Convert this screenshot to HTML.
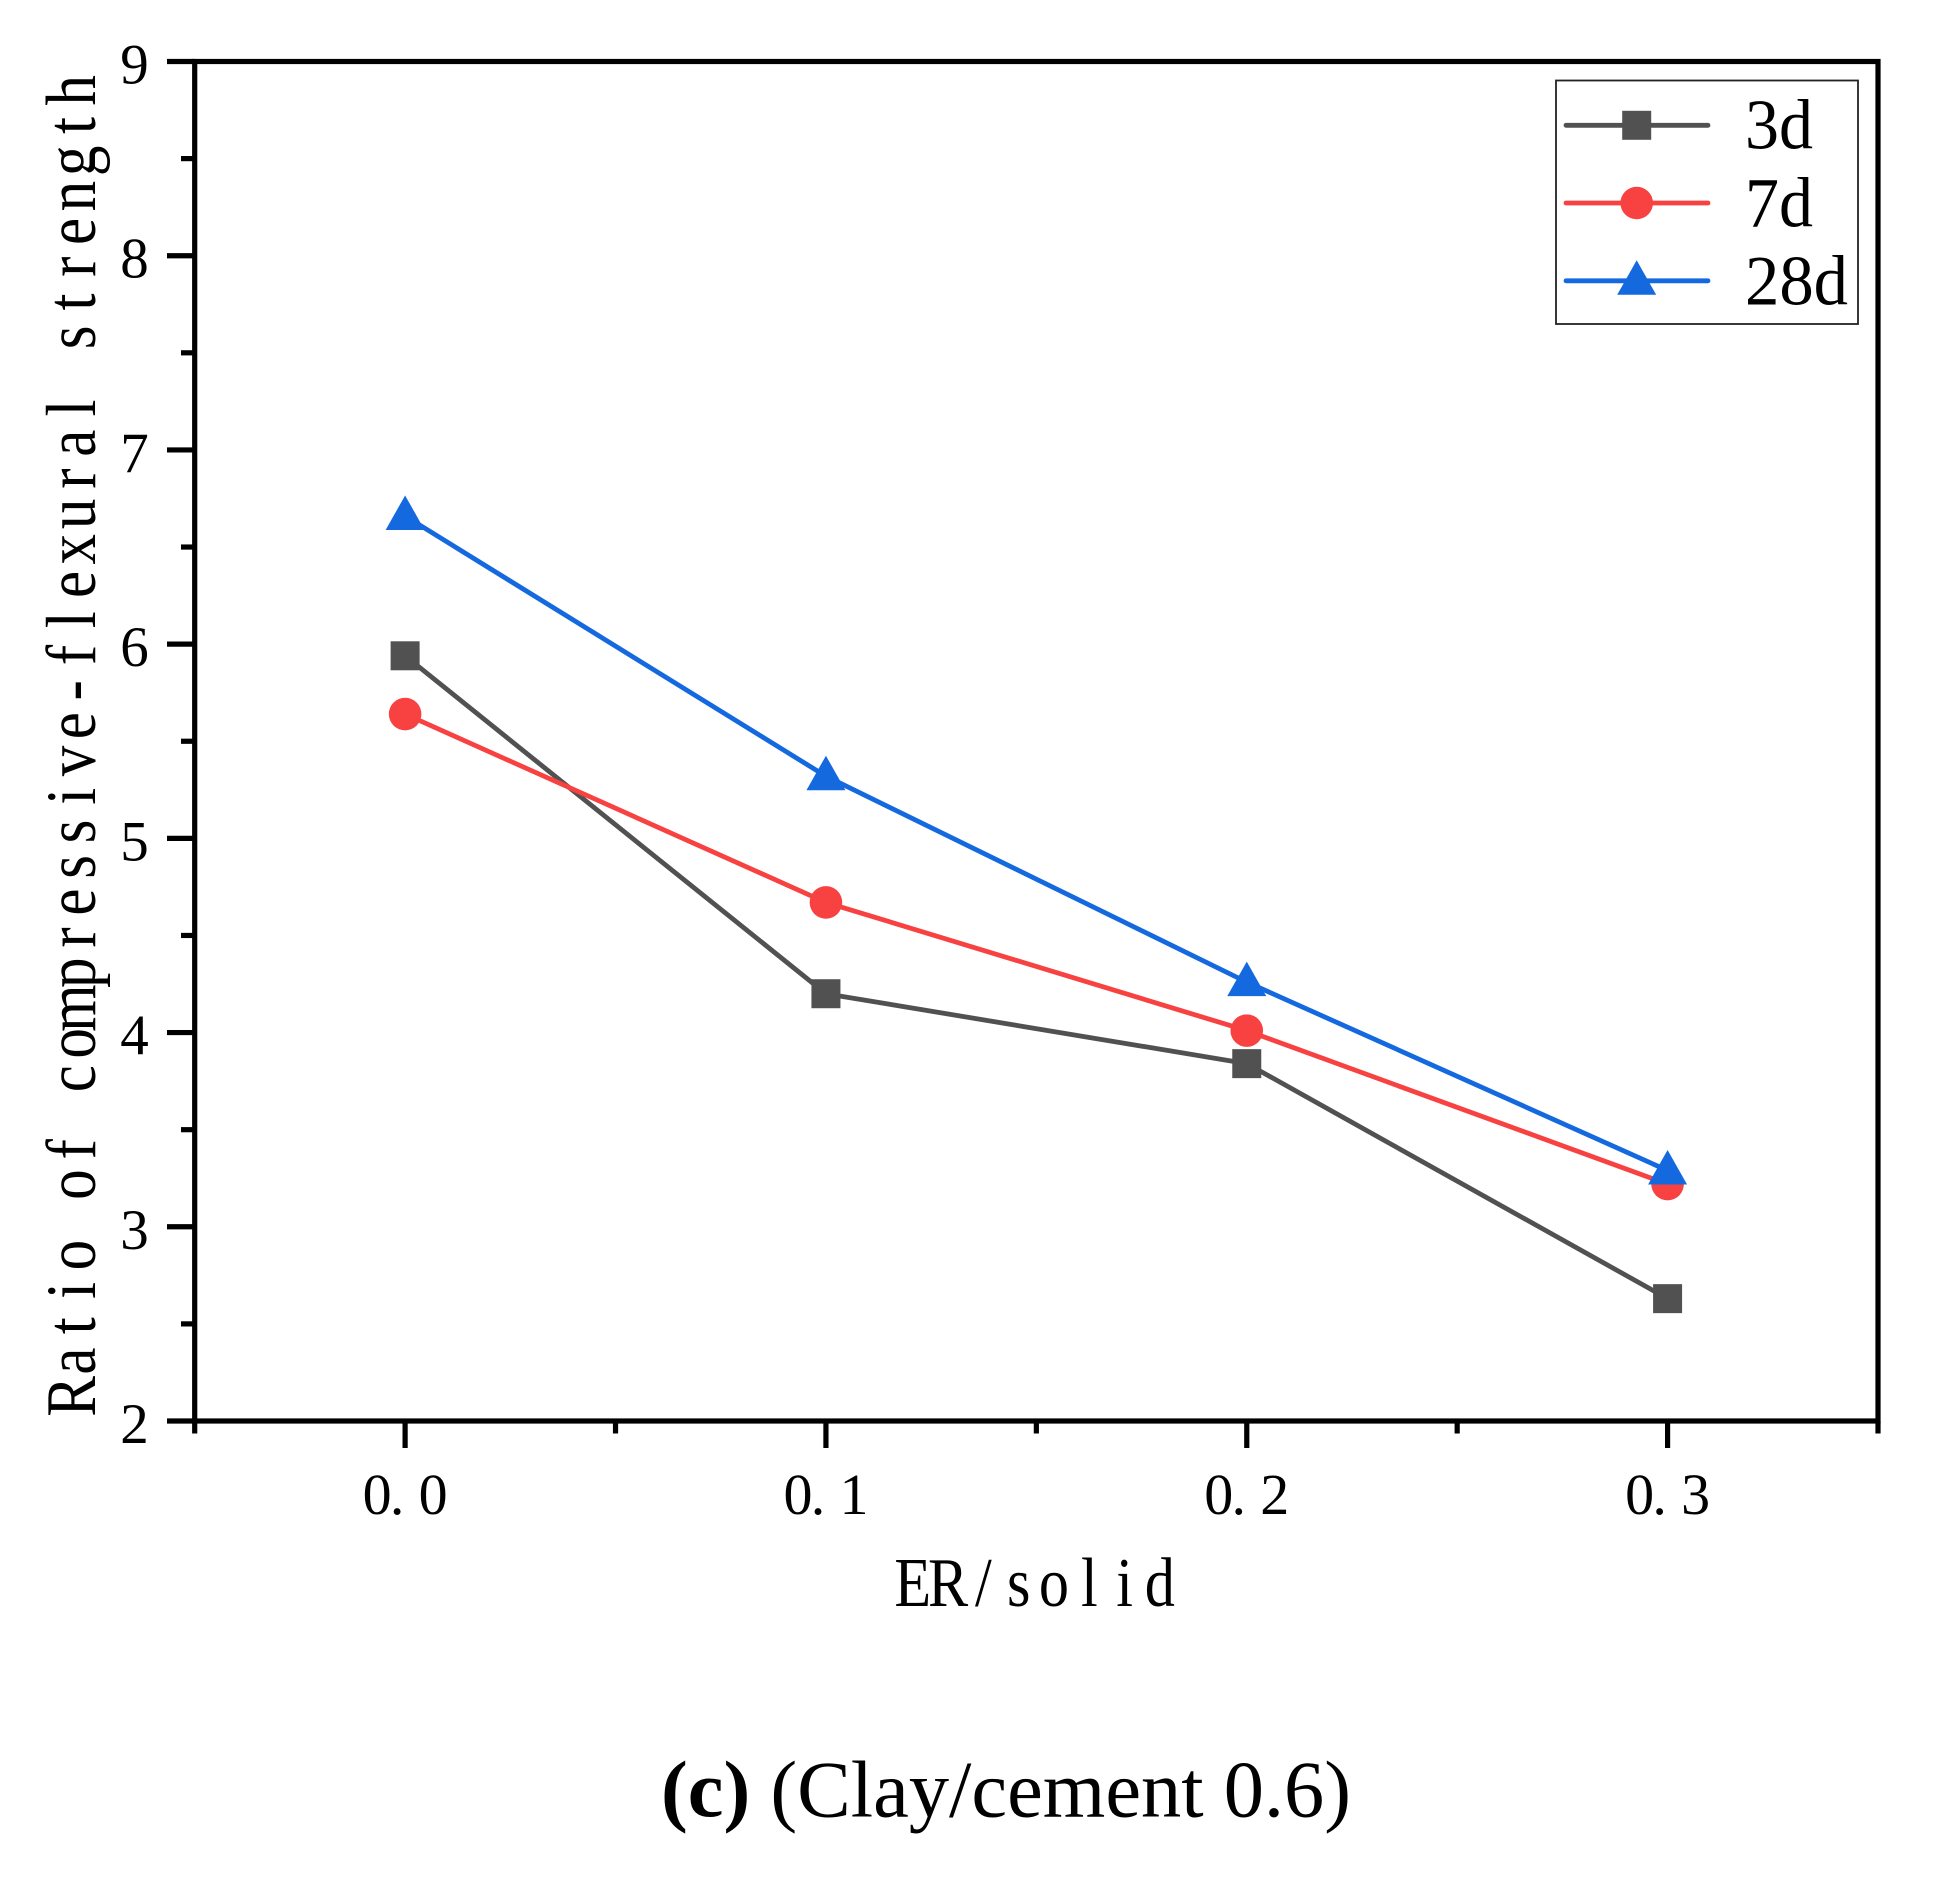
<!DOCTYPE html>
<html lang="en">
<head>
<meta charset="utf-8">
<title>Ratio of compressive-flexural strength vs ER/solid</title>
<style>
html,body{margin:0;padding:0;background:#fff;}
body{width:1936px;height:1880px;overflow:hidden;}
svg{display:block;}
text{font-family:"Liberation Serif","Noto Serif CJK SC",serif;fill:#000;}
</style>
</head>
<body>
<svg id="chart" xmlns="http://www.w3.org/2000/svg" width="1936" height="1880" viewBox="0 0 1936 1880">
  <rect x="0" y="0" width="1936" height="1880" fill="#ffffff"/>
  <g id="series-layer"></g>
  <g id="axes-layer"></g>
  <g id="legend">
    <rect x="1556" y="80.5" width="302" height="243.5" fill="#ffffff" stroke="#222222" stroke-width="1.8"/>
    <g id="legend-keys"></g>
    <text x="1745" y="148.5" font-size="71" textLength="68" lengthAdjust="spacingAndGlyphs">3d</text>
    <text x="1745" y="226.5" font-size="71" textLength="68" lengthAdjust="spacingAndGlyphs">7d</text>
    <text x="1745" y="304.5" font-size="71" textLength="103" lengthAdjust="spacingAndGlyphs">28d</text>
  </g>
  <text x="661" y="1816.5" font-size="80" textLength="690" lengthAdjust="spacingAndGlyphs"><tspan font-weight="bold">(c)</tspan> (Clay/cement 0.6)</text>
</svg>
<script>
const xValues = [0.0, 0.1, 0.2, 0.3];
const xTickLabels = ["0.0", "0.1", "0.2", "0.3"];
const yTickLabels = ["2", "3", "4", "5", "6", "7", "8", "9"];
const series3d = [5.94, 4.20, 3.84, 2.63];
const series7d = [5.64, 4.67, 4.01, 3.22];
const series28d = [6.66, 5.32, 4.26, 3.29];
const xMin = -0.05, xMax = 0.35, yMin = 2, yMax = 9;
const yAxisTitle = "Ratio of compressive-flexural strength";
const xAxisTitle = "ER/solid";

const NS = "http://www.w3.org/2000/svg";
const plotL = 194.7, plotR = 1878, plotT = 61.5, plotB = 1421;
const axisStroke = 5.2, seriesStroke = 4.8;
function xPos(v){ return plotL + (v - xMin) / (xMax - xMin) * (plotR - plotL); }
function yPos(v){ return plotB - (v - yMin) / (yMax - yMin) * (plotB - plotT); }
function mk(tag, attrs, parent){
  const el = document.createElementNS(NS, tag);
  for (const k in attrs) el.setAttribute(k, attrs[k]);
  parent.appendChild(el);
  return el;
}
function drawSquare(parent, cx, cy, color){
  return mk("rect", {x: cx - 14.5, y: cy - 14.5, width: 29, height: 29, fill: color}, parent);
}
function drawCircle(parent, cx, cy, color){
  return mk("circle", {cx: cx, cy: cy, r: 16.3, fill: color}, parent);
}
function drawTriangle(parent, cx, cy, color){
  return mk("polygon", {points: cx + "," + (cy - 20.5) + " " + (cx + 19.5) + "," + (cy + 14) + " " + (cx - 19.5) + "," + (cy + 14), fill: color}, parent);
}

const axes = document.getElementById("axes-layer");
const seriesLayer = document.getElementById("series-layer");
const legendKeys = document.getElementById("legend-keys");

/* frame */
const frame = mk("rect", {x: plotL, y: plotT, width: plotR - plotL, height: plotB - plotT, fill: "none", stroke: "#000", "stroke-width": axisStroke}, axes);



/* y ticks and labels */
yTickLabels.forEach(function(lab){
  const v = parseFloat(lab);
  const y = yPos(v);
  const t = mk("line", {x1: 167, x2: plotL, y1: y, y2: y, stroke: "#000", "stroke-width": axisStroke}, axes);
  
  
  const tx = mk("text", {x: 134.5, y: y + 22, "font-size": 57, "text-anchor": "middle"}, axes);
  
  
  tx.textContent = lab;
  if (v < yMax) {
    const ym = yPos(v + 0.5);
    const m = mk("line", {x1: 181, x2: plotL, y1: ym, y2: ym, stroke: "#000", "stroke-width": axisStroke}, axes);
    
    
  }
});

/* x ticks and labels */
xTickLabels.forEach(function(lab){
  const v = parseFloat(lab);
  const x = xPos(v);
  const t = mk("line", {x1: x, x2: x, y1: plotB, y2: 1448, stroke: "#000", "stroke-width": axisStroke}, axes);
  
  
  const tx = mk("text", {x: (x - 28) + " " + (x - 8) + " " + (x + 28), y: 1514, "font-size": 58, "text-anchor": "middle"}, axes);
  
  
  tx.textContent = lab;
});
[xMin, xMin + 0.1, xMin + 0.2, xMin + 0.3, xMax].forEach(function(v){
  const x = xPos(v);
  const m = mk("line", {x1: x, x2: x, y1: plotB, y2: 1433.5, stroke: "#000", "stroke-width": axisStroke}, axes);
  
  
});

/* axis titles: half-width cell spacing */
const cell = 35.3, squeeze = 0.86;
const yTitleGroup = mk("g", {transform: "translate(95,1414) rotate(-90) scale(" + squeeze + ",1)"}, axes);


const yt = mk("text", {x: Array.from(yAxisTitle).map(function(c, i){ return ((i + 0.5) * cell / squeeze).toFixed(1); }).join(" "), y: 0, "font-size": 71, "text-anchor": "middle"}, yTitleGroup);


yt.textContent = yAxisTitle;

const xTitleGroup = mk("g", {transform: "translate(" + ((plotL + plotR) / 2 - cell * xAxisTitle.length / 2) + ",1606) scale(" + squeeze + ",1)"}, axes);


const xt = mk("text", {x: Array.from(xAxisTitle).map(function(c, i){ return ((i + 0.5) * cell / squeeze).toFixed(1); }).join(" "), y: 0, "font-size": 70, "text-anchor": "middle"}, xTitleGroup);


xt.textContent = xAxisTitle;

/* series */
function drawSeries(values, color, marker, key, legendY){
  const g = mk("g", {}, seriesLayer);
  
  
  const pts = values.map(function(v, i){ return xPos(xValues[i]).toFixed(1) + "," + yPos(v).toFixed(1); }).join(" ");
  const line = mk("polyline", {points: pts, fill: "none", stroke: color, "stroke-width": seriesStroke, "stroke-linejoin": "round"}, g);
  
  
  values.forEach(function(v, i){
    const p = marker(g, xPos(xValues[i]), yPos(v), color);
    
    
  });
  const kl = mk("line", {x1: 1566, x2: 1708, y1: legendY, y2: legendY, stroke: color, "stroke-width": seriesStroke, "stroke-linecap": "round"}, legendKeys);
  
  
  const km = marker(legendKeys, 1636.7, legendY, color);
  
  
}
drawSeries(series3d, "#515151", drawSquare, "3d", 125.3);
drawSeries(series7d, "#F84242", drawCircle, "7d", 203);
drawSeries(series28d, "#1569DF", drawTriangle, "28d", 280.8);
</script>
</body>
</html>
